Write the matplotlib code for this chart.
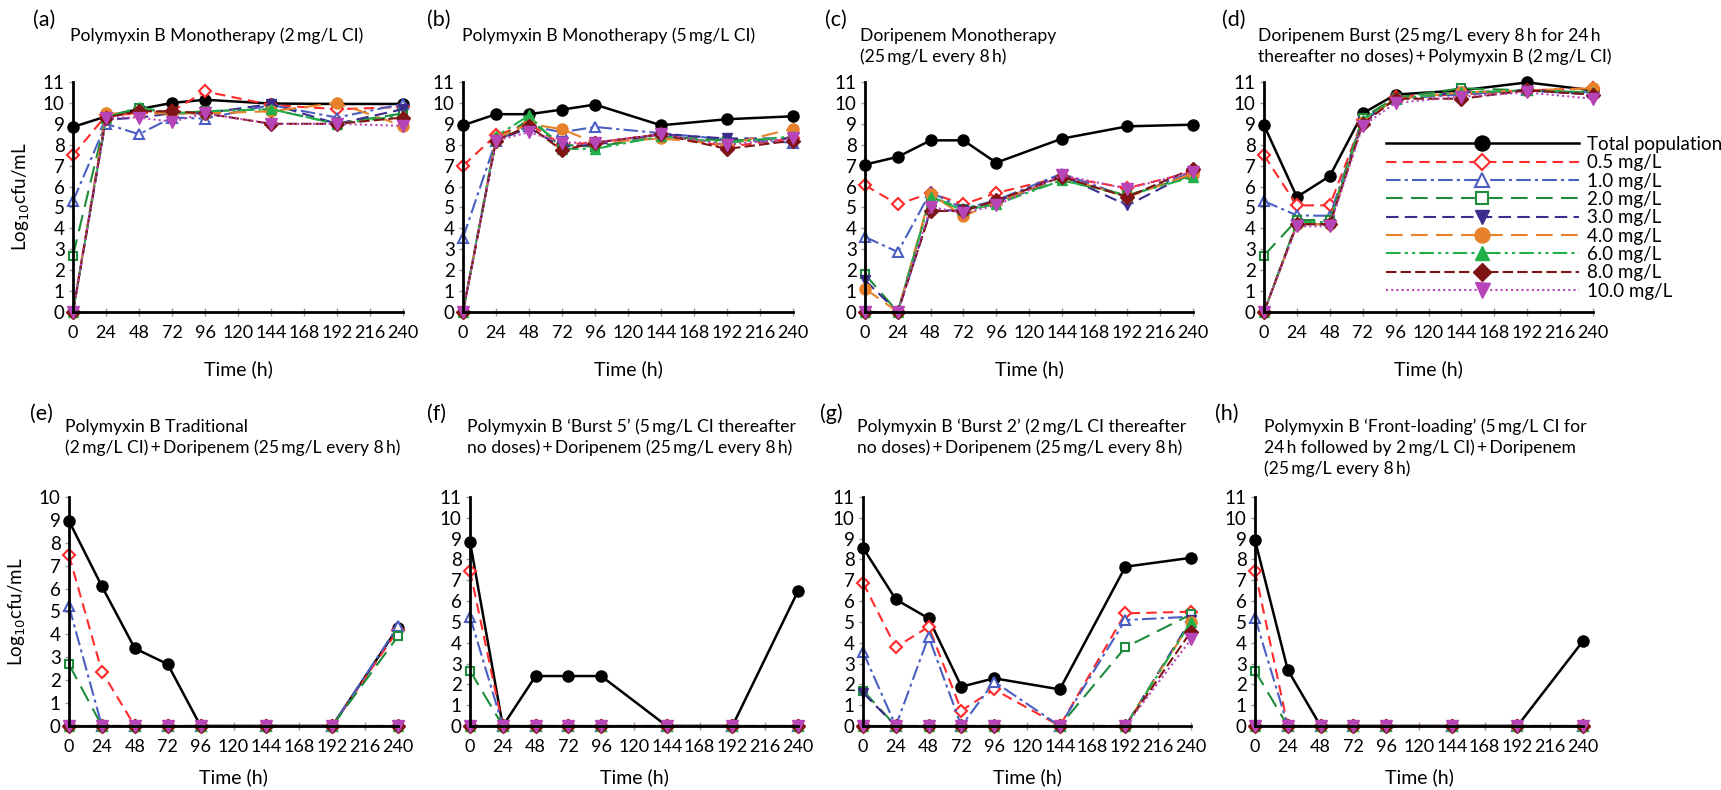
import matplotlib
matplotlib.use("Agg")
import matplotlib.pyplot as plt

plt.rcParams['font.family'] = ['Lato', 'DejaVu Sans']

# 采样时间点 (h)
times = [0, 24, 48, 72, 96, 144, 192, 240]
xticks = list(range(0, 241, 24))

series_labels = ['Total population', '0.5 mg/L', '1.0 mg/L', '2.0 mg/L', '3.0 mg/L',
                 '4.0 mg/L', '6.0 mg/L', '8.0 mg/L', '10.0 mg/L']

# 每个面板: 总菌群 + 8 个耐药亚群 (log10 cfu/mL)
panel_a = [
    [8.85, 9.35, 9.7, 10.0, 10.15, 9.97, 9.95, 9.95],
    [7.5, 9.4, 9.5, 9.6, 10.55, 9.9, 9.7, 9.8],
    [5.3, 9.0, 8.5, 9.3, 9.25, 9.9, 9.3, 9.95],
    [2.7, 9.3, 9.75, 9.5, 9.6, 9.7, 9.0, 9.5],
    [0, 9.2, 9.3, 9.5, 9.5, 9.95, 9.0, 9.7],
    [0, 9.5, 9.5, 9.5, 9.5, 9.6, 10.0, 8.9],
    [0, 9.3, 9.8, 9.5, 9.6, 9.7, 9.0, 9.4],
    [0, 9.3, 9.6, 9.6, 9.5, 9.0, 9.0, 9.3],
    [0, 9.3, 9.3, 9.1, 9.5, 9.0, 9.0, 8.9],
]
panel_b = [
    [8.93, 9.46, 9.46, 9.68, 9.92, 8.93, 9.22, 9.36],
    [7.0, 8.45, 9.0, 8.0, 8.1, 8.5, 7.9, 8.3],
    [3.55, 8.2, 8.9, 8.6, 8.85, 8.55, 8.25, 8.1],
    [0, 8.2, 9.2, 8.0, 7.9, 8.4, 8.2, 8.3],
    [0, 8.2, 8.8, 7.9, 8.0, 8.5, 8.3, 8.3],
    [0, 8.3, 9.0, 8.74, 8.1, 8.3, 8.0, 8.77],
    [0, 8.4, 9.4, 7.8, 7.8, 8.4, 8.1, 8.4],
    [0, 8.2, 8.9, 7.73, 8.1, 8.5, 7.8, 8.2],
    [0, 8.2, 8.6, 8.1, 8.1, 8.5, 8.0, 8.3],
]
panel_c = [
    [7.05, 7.42, 8.21, 8.21, 7.14, 8.29, 8.88, 8.96],
    [6.06, 5.15, 5.69, 5.15, 5.69, 6.46, 5.93, 6.7],
    [3.59, 2.87, 5.74, 4.94, 5.34, 6.62, 5.5, 6.7],
    [1.8, 0, 5.5, 4.94, 5.26, 6.3, 5.58, 6.54],
    [1.52, 0, 4.86, 4.86, 5.26, 6.54, 5.1, 6.7],
    [1.12, 0, 5.66, 4.58, 5.26, 6.46, 5.5, 6.62],
    [0, 0, 5.5, 4.86, 5.15, 6.3, 5.58, 6.46],
    [0, 0, 4.83, 4.83, 5.34, 6.46, 5.5, 6.86],
    [0, 0, 5.02, 4.74, 5.1, 6.54, 5.9, 6.7],
]
panel_d = [
    [8.93, 5.5, 6.5, 9.5, 10.4, 10.6, 10.98, 10.6],
    [7.5, 5.1, 5.1, 9.2, 10.3, 10.4, 10.6, 10.7],
    [5.3, 4.62, 4.6, 9.2, 10.2, 10.4, 10.6, 10.5],
    [2.7, 4.4, 4.4, 9.3, 10.25, 10.7, 10.6, 10.5],
    [0, 4.2, 4.2, 9.1, 10.2, 10.5, 10.6, 10.4],
    [0, 4.2, 4.2, 9.1, 10.2, 10.5, 10.6, 10.7],
    [0, 4.3, 4.3, 9.2, 10.2, 10.5, 10.6, 10.5],
    [0, 4.2, 4.2, 9.0, 10.2, 10.2, 10.6, 10.4],
    [0, 4.1, 4.1, 8.9, 10.0, 10.3, 10.5, 10.2],
]
panel_e = [
    [8.95, 6.1, 3.39, 2.7, 0, 0, 0, 4.3],
    [7.46, 2.37, 0, 0, 0, 0, 0, 4.19],
    [5.23, 0, 0, 0, 0, 0, 0, 4.36],
    [2.69, 0, 0, 0, 0, 0, 0, 3.92],
    [0, 0, 0, 0, 0, 0, 0, 0],
    [0, 0, 0, 0, 0, 0, 0, 0],
    [0, 0, 0, 0, 0, 0, 0, 0],
    [0, 0, 0, 0, 0, 0, 0, 0],
    [0, 0, 0, 0, 0, 0, 0, 0],
]
panel_f = [
    [8.85, 0, 2.4, 2.4, 2.4, 0, 0, 6.48],
    [7.46, 0, 0, 0, 0, 0, 0, 0],
    [5.25, 0, 0, 0, 0, 0, 0, 0],
    [2.66, 0, 0, 0, 0, 0, 0, 0],
    [0, 0, 0, 0, 0, 0, 0, 0],
    [0, 0, 0, 0, 0, 0, 0, 0],
    [0, 0, 0, 0, 0, 0, 0, 0],
    [0, 0, 0, 0, 0, 0, 0, 0],
    [0, 0, 0, 0, 0, 0, 0, 0],
]
panel_g = [
    [8.56, 6.08, 5.17, 1.89, 2.29, 1.76, 7.65, 8.08],
    [6.88, 3.78, 4.77, 0.74, 1.76, 0, 5.41, 5.49],
    [3.56, 0, 4.29, 0, 2.13, 0, 5.09, 5.25],
    [1.7, 0, 0, 0, 0, 0, 3.78, 5.36],
    [1.6, 0, 0, 0, 0, 0, 0, 5.1],
    [0, 0, 0, 0, 0, 0, 0, 5.0],
    [0, 0, 0, 0, 0, 0, 0, 5.0],
    [0, 0, 0, 0, 0, 0, 0, 4.53],
    [0, 0, 0, 0, 0, 0, 0, 4.16],
]
panel_h = [
    [8.93, 2.69, 0, 0, 0, 0, 0, 4.08],
    [7.45, 0, 0, 0, 0, 0, 0, 0],
    [5.2, 0, 0, 0, 0, 0, 0, 0],
    [2.65, 0, 0, 0, 0, 0, 0, 0],
    [0, 0, 0, 0, 0, 0, 0, 0],
    [0, 0, 0, 0, 0, 0, 0, 0],
    [0, 0, 0, 0, 0, 0, 0, 0],
    [0, 0, 0, 0, 0, 0, 0, 0],
    [0, 0, 0, 0, 0, 0, 0, 0],
]

panel_tags = ['(a)', '(b)', '(c)', '(d)', '(e)', '(f)', '(g)', '(h)']
panel_titles = [
    ['Polymyxin B Monotherapy (2\u2009mg/L CI)'],
    ['Polymyxin B Monotherapy (5\u2009mg/L CI)'],
    ['Doripenem Monotherapy', '(25\u2009mg/L every 8\u2009h)'],
    ['Doripenem Burst (25\u2009mg/L every 8\u2009h for 24\u2009h',
     'thereafter no doses)\u2009+\u2009Polymyxin B (2\u2009mg/L CI)'],
    ['Polymyxin B Traditional',
     '(2\u2009mg/L CI)\u2009+\u2009Doripenem (25\u2009mg/L every 8\u2009h)'],
    ['Polymyxin B \u2018Burst 5\u2019 (5\u2009mg/L CI thereafter',
     'no doses)\u2009+\u2009Doripenem (25\u2009mg/L every 8\u2009h)'],
    ['Polymyxin B \u2018Burst 2\u2019 (2\u2009mg/L CI thereafter',
     'no doses)\u2009+\u2009Doripenem (25\u2009mg/L every 8\u2009h)'],
    ['Polymyxin B \u2018Front-loading\u2019 (5\u2009mg/L CI for',
     '24\u2009h followed by 2\u2009mg/L CI)\u2009+\u2009Doripenem',
     '(25\u2009mg/L every 8\u2009h)'],
]
panel_data = [panel_a, panel_b, panel_c, panel_d, panel_e, panel_f, panel_g, panel_h]
panel_ymax = [11, 11, 11, 11, 10, 11, 11, 11]

# 线型与标记
styles = [
    dict(color='black', ls='-', marker='o', mfc='black', ms=8, lw=1.8),
    dict(color='#ff2a2a', ls=(0, (5, 3)), marker='D', mfc='white', ms=6, lw=1.5, mew=1.5),
    dict(color='#4a5fc1', ls=(0, (7, 2, 1.5, 2)), marker='^', mfc='white', ms=7, lw=1.5, mew=1.5),
    dict(color='#1e8c3a', ls=(0, (8, 4)), marker='s', mfc='white', ms=6, lw=1.5, mew=1.5),
    dict(color='#3c2c8c', ls=(0, (6, 3)), marker='v', mfc='#3c2c8c', ms=7.5, lw=1.5),
    dict(color='#e8822a', ls=(0, (8, 4)), marker='o', mfc='#e8822a', ms=8, lw=1.5),
    dict(color='#22b04a', ls=(0, (7, 2, 1.5, 2, 1.5, 2)), marker='^', mfc='#22b04a', ms=7.5, lw=1.5),
    dict(color='#7e1416', ls=(0, (5, 2)), marker='D', mfc='#7e1416', ms=7, lw=1.5),
    dict(color='#b845b8', ls=(0, (1, 1.5)), marker='v', mfc='#b845b8', ms=8, lw=1.5),
]

W, H = 1721, 790
fig = plt.figure(figsize=(W / 100, H / 100), dpi=100)

# 面板位置 (像素): left, right, top, bottom
boxes = [
    (73, 403, 82, 312), (463, 793, 82, 312), (865, 1193, 82, 312), (1264, 1593, 82, 312),
    (69, 398, 497, 726), (470, 798, 497, 726), (863, 1191, 497, 726), (1255, 1583, 497, 726),
]
tag_pos = [(33, 26), (427, 26), (825, 26), (1222, 26), (30, 420), (427, 420), (820, 420), (1215, 420)]
title_x = [70, 462, 860, 1258, 65, 467, 857, 1264]
title_y0 = [41, 41, 41, 41, 432, 432, 432, 432]

for i in range(8):
    l, r, t, b = boxes[i]
    ax = fig.add_axes([l / W, 1 - b / H, (r - l) / W, (b - t) / H])
    for vals, st in zip(panel_data[i], styles):
        ax.plot(times, vals, clip_on=False, **st)
    ax.set_xlim(0, 240)
    ax.set_ylim(0, panel_ymax[i])
    ax.set_xticks(xticks)
    ax.set_yticks(range(0, panel_ymax[i] + 1))
    ax.spines['top'].set_visible(False)
    ax.spines['right'].set_visible(False)
    ax.spines['left'].set_linewidth(2)
    ax.spines['bottom'].set_linewidth(2)
    ax.tick_params(axis='x', direction='inout', length=6, width=1, color='#999999',
                   labelsize=13, pad=6)
    ax.tick_params(axis='y', direction='out', length=3, width=1, color='#999999',
                   labelsize=13.5, pad=3)
    ax.set_xlabel('Time (h)', fontsize=14, labelpad=14 if i < 4 else 10)
    if i in (0, 4):
        ax.set_ylabel('Log$_{10}$cfu/mL', fontsize=13.5, labelpad=8)
    fig.text(tag_pos[i][0] / W, 1 - tag_pos[i][1] / H, panel_tags[i], fontsize=15.5,
             ha='left', va='baseline')
    for k, line in enumerate(panel_titles[i]):
        fig.text(title_x[i] / W, 1 - (title_y0[i] + 21 * k) / H, line, fontsize=12.6,
                 ha='left', va='baseline')
    if i == 3:
        leg = ax.legend(series_labels, loc='upper left', bbox_to_anchor=(0.37, 0.765),
                        frameon=False, fontsize=13.5, handlelength=10.3, handletextpad=0.45,
                        labelspacing=0.07, borderpad=0, borderaxespad=0, markerscale=1.35)

fig.savefig('out.png', dpi=100)
